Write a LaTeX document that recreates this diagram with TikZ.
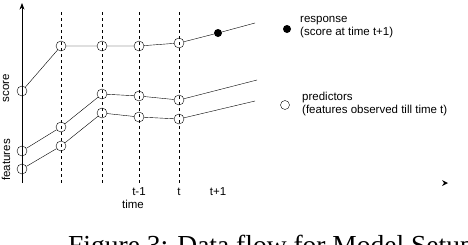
\documentclass[tikz,border=0pt]{standalone}
\usepackage{fontspec}
\setmainfont{Liberation Sans}
\newfontfamily\capfont{Liberation Serif}
\usetikzlibrary{arrows.meta,positioning}

\begin{document}
\begin{tikzpicture}[x=1pt, y=-1pt, >=Stealth,
  obs/.style={circle, draw, minimum size=10pt, inner sep=0pt},
  resp/.style={circle, fill=black, minimum size=8pt, inner sep=0pt},
  lbl/.style={font=\fontsize{11.5}{13}\selectfont, inner sep=0pt}]
\useasboundingbox (0,0) rectangle (468,244);
% axis and time lines
\coordinate (O) at (22,183);
\draw[->, thick] (O) -- (22,3);
\foreach \x in {61,102,139,179}
  \draw[dashed] (\x,12) -- (\x,183);
\fill (442,180) -- (448,183) -- (442,186) -- (444,183) -- cycle;
% score curve
\node[obs] (S0) at (22,91) {};
\node[obs] (S1) at (61,46) {};
\node[obs] (S2) at (102,46) {};
\node[obs] (S3) at (139,46) {};
\node[obs] (S4) at (179,43) {};
\node[resp] (S5) at (218,33) {};
\coordinate (S6) at (255,23);
\draw (S0) -- (S1) -- (S2) -- (S3) -- (S4) -- (S5) -- (S6);
% feature curves
\node[obs] (A0) at (22,151) {};
\node[obs] (A1) at (61,127) {};
\node[obs] (A2) at (102,94) {};
\node[obs] (A3) at (139,96) {};
\node[obs] (A4) at (179,100) {};
\coordinate (A5) at (257,80);
\draw (A0) -- (A1) -- (A2) -- (A3) -- (A4) -- (A5);
\node[obs] (B0) at (22,169) {};
\node[obs] (B1) at (61,146) {};
\node[obs] (B2) at (102,113) {};
\node[obs] (B3) at (139,117) {};
\node[obs] (B4) at (179,119) {};
\coordinate (B5) at (255,101);
\draw (B0) -- (B1) -- (B2) -- (B3) -- (B4) -- (B5);
% axis labels
\node[lbl, rotate=90] (score) at (6,88) {score};
\node[lbl, rotate=90] (feat) at (6,160) {features};
\node[lbl] (tm1) at (139,192) {t-1};
\node[lbl] (tt) at (179,192) {t};
\node[lbl] (tp1) at (218,192) {t+1};
\node[lbl] (time) at (133,204) {time};
% legend
\node[resp] (Lr) at (287,29) {};
\node[lbl, anchor=north west, align=left] (Lrt) at (300,16) {response\\(score at time t+1)};
\node[obs, minimum size=9pt] (Lp) at (285,105) {};
\node[lbl, anchor=north west, align=left] (Lpt) at (302,92) {predictors\\(features observed till time t)};
% caption
\node[anchor=base west, inner sep=0pt, font=\capfont\fontsize{27.5}{30}\selectfont] (cap) at (68,254) {Figure 3: Data flow for Model Setup};
\end{tikzpicture}
\end{document}
